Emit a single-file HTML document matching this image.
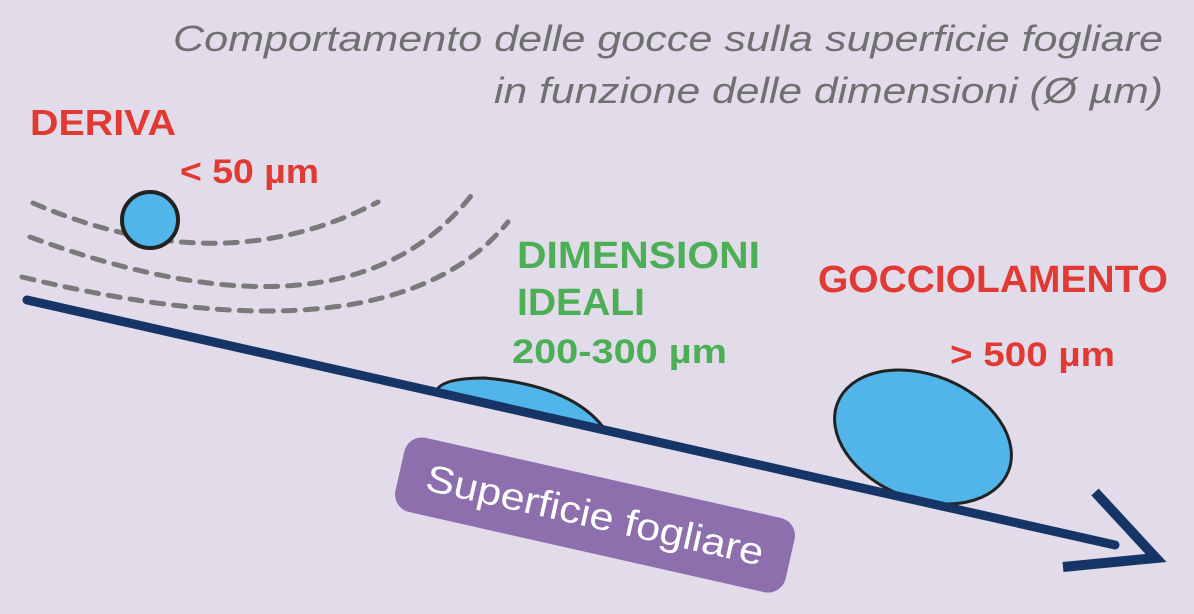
<!DOCTYPE html>
<html><head><meta charset="utf-8"><style>
html,body{margin:0;padding:0;background:#e2dbea;}
svg{display:block}
</style></head><body>
<svg width="1194" height="614" viewBox="0 0 1194 614" xmlns="http://www.w3.org/2000/svg">
<rect width="1194" height="614" fill="#e2dbea"/>
<g font-family="Liberation Sans, sans-serif" font-style="italic" fill="#707070" font-size="36">
<text x="173" y="51" textLength="990" lengthAdjust="spacingAndGlyphs">Comportamento delle gocce sulla superficie fogliare</text>
<text x="494" y="103" textLength="669" lengthAdjust="spacingAndGlyphs">in funzione delle dimensioni (Ø µm)</text>
</g>
<g font-family="Liberation Sans, sans-serif" font-weight="bold">
<text x="30" y="135" font-size="36" fill="#e03a33" textLength="146" lengthAdjust="spacingAndGlyphs">DERIVA</text>
<text x="180" y="183" font-size="34" fill="#e03a33" textLength="139" lengthAdjust="spacingAndGlyphs">&lt; 50 µm</text>
<text x="517" y="268" font-size="38" fill="#4caf55" textLength="243" lengthAdjust="spacingAndGlyphs">DIMENSIONI</text>
<text x="517" y="315" font-size="38" fill="#4caf55" textLength="128" lengthAdjust="spacingAndGlyphs">IDEALI</text>
<text x="512" y="363" font-size="34" fill="#4caf55" textLength="215" lengthAdjust="spacingAndGlyphs">200-300 µm</text>
<text x="818" y="292" font-size="38" fill="#e03a33" textLength="350" lengthAdjust="spacingAndGlyphs">GOCCIOLAMENTO</text>
<text x="950" y="366" font-size="34" fill="#e03a33" textLength="165" lengthAdjust="spacingAndGlyphs">&gt; 500 µm</text>
</g>
<g fill="none" stroke="#7a7a7a" stroke-width="5" stroke-dasharray="12 10" stroke-linecap="round">
<path d="M33,203 Q220,284 378,202"/>
<path d="M30,237 Q350,355 474,192"/>
<path d="M22,277 Q390,366 508,222"/>
</g>
<circle cx="150" cy="220" r="28" fill="#52b5ea" stroke="#222" stroke-width="4"/>
<path d="M436,392 Q440,378 485,378 Q575,386 606,431 Z" fill="#52b5ea" stroke="#222" stroke-width="3"/>
<ellipse cx="923" cy="437" rx="92" ry="62" transform="rotate(22 923 437)" fill="#52b5ea" stroke="#222" stroke-width="3"/>
<line x1="27" y1="300" x2="1115" y2="545" stroke="#163566" stroke-width="9" stroke-linecap="round"/>
<path d="M1095,492 L1156,558 L1063,567" fill="none" stroke="#163566" stroke-width="10" stroke-linejoin="miter"/>
<g transform="translate(595,515) rotate(12.7)">
<rect x="-200" y="-38" width="400" height="76" rx="18" fill="#8d6fae"/>
<text x="0" y="13" text-anchor="middle" font-family="Liberation Sans, sans-serif" font-size="38" fill="#fff" textLength="345" lengthAdjust="spacingAndGlyphs">Superficie fogliare</text>
</g>
</svg>
</body></html>
